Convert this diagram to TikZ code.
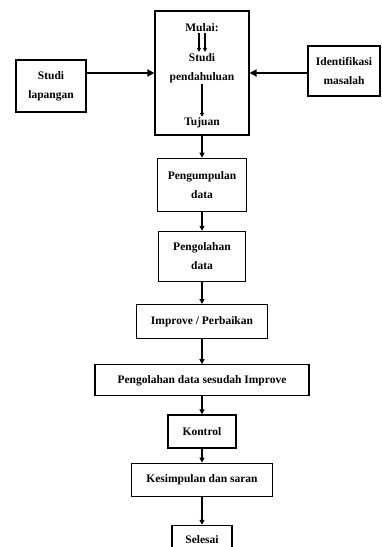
\documentclass[tikz,border=0pt]{standalone}
\usepackage{fontspec}
\setmainfont{Liberation Serif}
\usetikzlibrary{arrows.meta,positioning}

\begin{document}
\begin{tikzpicture}[
  box/.style={draw=black, line width=1.2pt, align=center, inner sep=2pt,
              font=\fontsize{11.5}{19}\selectfont\bfseries},
  txt/.style={align=center, inner sep=1pt, font=\fontsize{11.5}{19}\selectfont\bfseries},
  arr/.style={-{Triangle[length=5pt,width=5pt]}, line width=1.6pt},
  tarr/.style={-{Triangle[length=4pt,width=4pt]}, line width=1.1pt},
  harr/.style={-{Triangle[length=7pt,width=7pt]}, line width=2.4pt}
]
  \useasboundingbox (0,0) rectangle (382pt,-547pt);
  \node[box,minimum width=94pt,minimum height=124pt] (big) at (202pt,-73pt) {};
  \node[txt,below=12pt of big.north] (mul) {Mulai:};
  \node[txt,below=19pt of mul] (stu) {Studi\\pendahuluan};
  \node[txt,above=6pt of big.south] (tuj) {Tujuan};
  \node[box,minimum width=70pt,minimum height=52pt] (lap) at (51pt,-86pt) {Studi\\lapangan};
  \node[box,minimum width=72pt,minimum height=50pt] (idm) at (344pt,-71pt) {Identifikasi\\masalah};
  \node[box,minimum width=89pt,minimum height=53pt,below=22pt of big] (kumpul) {Pengumpulan\\data};
  \node[box,minimum width=87pt,minimum height=50pt,below=19pt of kumpul] (olah) {Pengolahan\\data};
  \node[box,minimum width=131pt,minimum height=34pt,below=22pt of olah] (imp) {Improve / Perbaikan};
  \node[box,minimum width=214pt,minimum height=31pt,below=25pt of imp] (sesudah) {Pengolahan data sesudah Improve};
  \node[box,minimum width=68pt,minimum height=33pt,below=18pt of sesudah] (kontrol) {Kontrol};
  \node[box,minimum width=141pt,minimum height=33pt,below=14pt of kontrol] (simpul) {Kesimpulan dan saran};
  \node[box,minimum width=60pt,minimum height=28pt,below=28pt of simpul] (selesai) {Selesai};

  \draw[harr] (lap.east |- big.west) -- (big.west);
  \draw[harr] (idm.west |- big.east) -- (big.east);
  \draw[tarr] ([xshift=-3pt]mul.south) -- ([xshift=-3pt]stu.north);
  \draw[tarr] ([xshift=3pt]mul.south) -- ([xshift=3pt]stu.north);
  \draw[tarr] (stu) -- (tuj);
  \draw[arr] (big.south) -- (kumpul.north);
  \draw[arr] (kumpul) -- (olah);
  \draw[arr] (olah) -- (imp);
  \draw[arr] (imp) -- (sesudah);
  \draw[arr] (sesudah) -- (kontrol);
  \draw[arr] (kontrol) -- (simpul);
  \draw[arr] (simpul) -- (selesai);
\end{tikzpicture}
\end{document}
